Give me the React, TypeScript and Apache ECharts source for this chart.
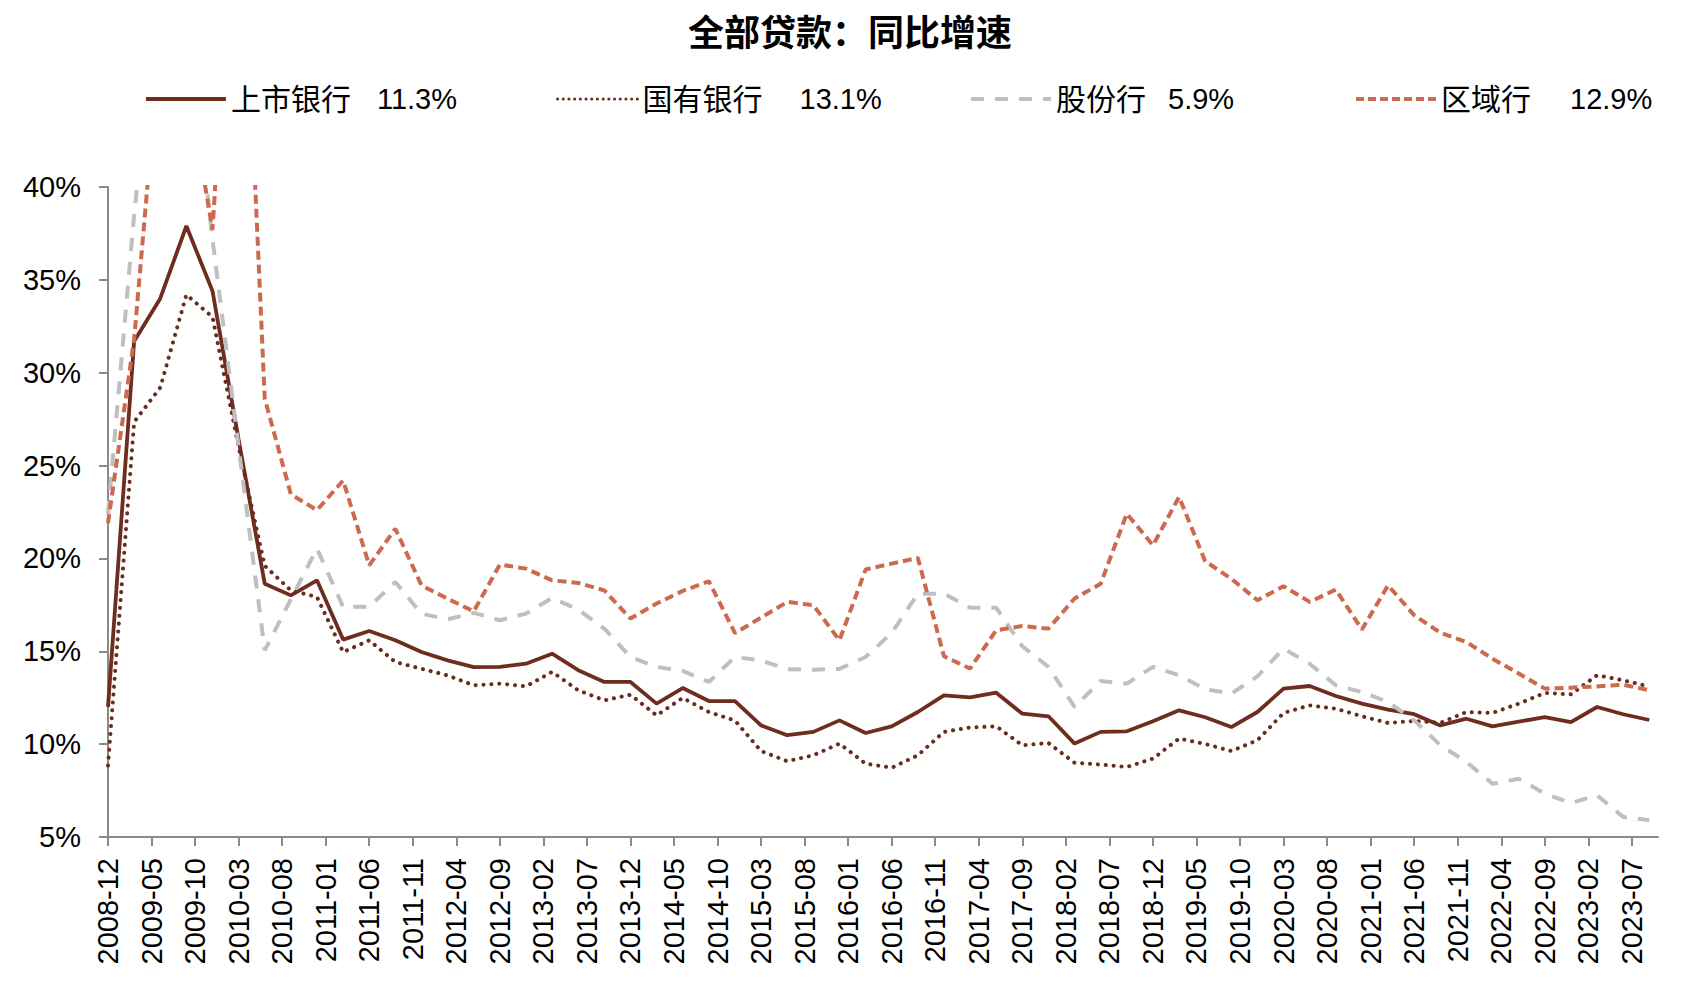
import React, { useEffect, useRef } from "react";
import * as echarts from "echarts";

// ---- data (percent, quarterly from 2008-12 to 2023-09) ----
const seriesNames = ["上市银行", "国有银行", "股份行", "区域行"];
const latestValues = ["11.3%", "13.1%", "5.9%", "12.9%"];

const listedBanks = [
  12.0, 31.7, 34.0, 37.9, 34.4, 26.4, 18.64, 18.01, 18.82, 15.63,
  16.09, 15.59, 14.96, 14.51, 14.15, 14.16, 14.33, 14.87, 13.98, 13.35,
  13.35, 12.18, 13.02, 12.32, 12.32, 11.01, 10.48, 10.66, 11.28, 10.6,
  10.96, 11.73, 12.63, 12.52, 12.77, 11.64, 11.5, 10.03, 10.66, 10.69,
  11.23, 11.82, 11.45, 10.92, 11.73, 12.99, 13.13, 12.59, 12.18, 11.86,
  11.61, 11.01, 11.37, 10.96, 11.21, 11.46, 11.19, 12.0, 11.61, 11.3,
];
const stateOwned = [
  8.85, 27.35, 29.2, 34.2, 33.0, 26.0, 19.6, 18.28, 17.92, 14.96,
  15.59, 14.42, 14.06, 13.7, 13.17, 13.26, 13.11, 13.89, 12.9, 12.36,
  12.66, 11.55, 12.49, 11.73, 11.27, 9.63, 9.08, 9.4, 10.03, 8.95,
  8.73, 9.4, 10.66, 10.9, 10.96, 9.94, 10.06, 9.0, 8.9, 8.77,
  9.22, 10.3, 10.01, 9.63, 10.21, 11.68, 12.09, 11.91, 11.5, 11.14,
  11.25, 11.15, 11.73, 11.68, 12.18, 12.76, 12.68, 13.71, 13.44, 13.1,
];
const jointStock = [
  22.4, 38.5, 52.0, 50.0, 37.2, 26.0, 15.05, 17.8, 20.53, 17.39,
  17.4, 18.73, 17.02, 16.72, 17.07, 16.67, 17.03, 17.87, 17.24, 16.22,
  14.69, 14.16, 13.94, 13.35, 14.69, 14.51, 14.03, 14.01, 14.05, 14.69,
  15.99, 18.1, 18.1, 17.35, 17.35, 15.27, 14.16, 12.0, 13.4, 13.26,
  14.16, 13.71, 12.96, 12.72, 13.65, 15.14, 14.33, 13.17, 12.81, 12.27,
  11.28, 9.95, 9.04, 7.87, 8.14, 7.33, 6.83, 7.25, 6.08, 5.9,
];
const regional = [
  21.9, 31.8, 48.0, 46.0, 37.7, 60.0, 28.6, 23.45, 22.6, 24.2,
  19.63, 21.6, 18.55, 17.83, 17.15, 19.67, 19.45, 18.82, 18.68, 18.28,
  16.76, 17.57, 18.25, 18.77, 15.98, 16.81, 17.66, 17.48, 15.59, 19.4,
  19.72, 20.03, 14.73, 14.07, 16.13, 16.36, 16.22, 17.84, 18.64, 22.41,
  20.71, 23.31, 19.85, 18.91, 17.75, 18.5, 17.66, 18.32, 16.17, 18.55,
  16.94, 16.0, 15.5, 14.6, 13.8, 12.99, 13.04, 13.11, 13.2, 12.9,
];

// month categories 2008-12 .. 2023-10 (date axis), labels every 5 months
const firstMonth = { year: 2008, month: 12 };
const monthCount = 179;
const months: string[] = [];
for (let i = 0; i < monthCount; i++) {
  const t = firstMonth.year * 12 + (firstMonth.month - 1) + i;
  const y = Math.floor(t / 12);
  const m = (t % 12) + 1;
  months.push(`${y}-${m < 10 ? "0" + m : m}`);
}
const quarterLabels = listedBanks.map((_, k) => months[3 * k]);

const FONT = "'Liberation Sans', Arial, 'Noto Sans CJK SC', sans-serif";

export default function App() {
  const ref = useRef<HTMLDivElement>(null);

  useEffect(() => {
    document.body.style.margin = "0";
    if (!ref.current) return;
    const chart = echarts.init(ref.current, undefined, { renderer: "svg" });

    const allSeries = [listedBanks, stateOwned, jointStock, regional];
    const colors = ["#6e2d1e", "#6a2c1f", "#bfbfbf", "#cd6a4e"];
    const lineStyles: any[] = [
      { width: 3.8, type: "solid" },
      { width: 4, type: [0.1, 7.8], cap: "round" },
      { width: 4, type: [13, 11] },
      { width: 4, type: [9, 5] },
    ];
    const legendLineStyles: any[] = [
      { width: 3.8, type: "solid" },
      { width: 3, type: [0.1, 5.6], cap: "round" },
      { width: 4, type: [13, 11] },
      { width: 4, type: [8, 4] },
    ];
    const legendLefts = [144, 556, 969, 1354];
    const nameWidths = [146, 157, 112, 129];

    const option: any = {
      animation: false,
      backgroundColor: "#ffffff",
      title: {
        text: "全部贷款：同比增速",
        left: 688,
        top: 12,
        padding: 0,
        textStyle: {
          fontSize: 36,
          fontWeight: "bold",
          color: "#000",
          fontFamily: "'Noto Sans CJK SC', sans-serif",
        },
      },
      legend: seriesNames.map((name, i) => ({
        data: [name],
        left: legendLefts[i],
        top: 84,
        padding: 0,
        itemWidth: 80,
        itemHeight: 14,
        selectedMode: false,
        itemStyle: { opacity: 0, borderWidth: 0 },
        lineStyle: { color: colors[i], opacity: 1, ...legendLineStyles[i] },
        formatter: () => `{n|${name}}{v|${latestValues[i]}}`,
        textStyle: {
          color: "#000",
          fontSize: 30,
          fontFamily: FONT,
          rich: {
            n: { width: nameWidths[i], fontSize: 30, fontFamily: FONT, color: "#000" },
            v: { fontSize: 29, fontFamily: FONT, color: "#000" },
          },
        },
      })),
      grid: { left: 108, right: 23, top: 187, bottom: 154, containLabel: false },
      xAxis: {
        type: "category",
        data: months,
        boundaryGap: false,
        axisLine: { show: true, lineStyle: { color: "#8a8a8a", width: 2 } },
        axisTick: { show: true, interval: 4, length: 9, inside: false, lineStyle: { color: "#8a8a8a", width: 2 } },
        axisLabel: {
          interval: 4,
          rotate: 90,
          margin: 21,
          fontSize: 29,
          color: "#000",
          fontFamily: FONT,
        },
        splitLine: { show: false },
      },
      yAxis: {
        type: "value",
        min: 5,
        max: 40,
        interval: 5,
        axisLine: { show: true, lineStyle: { color: "#8a8a8a", width: 2 } },
        axisTick: { show: true, length: 9, inside: false, lineStyle: { color: "#8a8a8a", width: 2 } },
        axisLabel: {
          formatter: "{value}%",
          margin: 27,
          fontSize: 29,
          color: "#000",
          fontFamily: FONT,
        },
        splitLine: { show: false },
      },
      series: allSeries.map((vals, i) => ({
        name: seriesNames[i],
        type: "line",
        data: vals.map((v, k) => [quarterLabels[k], v]),
        symbol: "none",
        showSymbol: false,
        clip: true,
        color: colors[i],
        lineStyle: { color: colors[i], ...lineStyles[i] },
        itemStyle: { color: colors[i] },
        emphasis: { disabled: true },
      })),
    };

    chart.setOption(option);
    return () => chart.dispose();
  }, []);

  return <div ref={ref} style={{ width: 1681, height: 991 }} />;
}
